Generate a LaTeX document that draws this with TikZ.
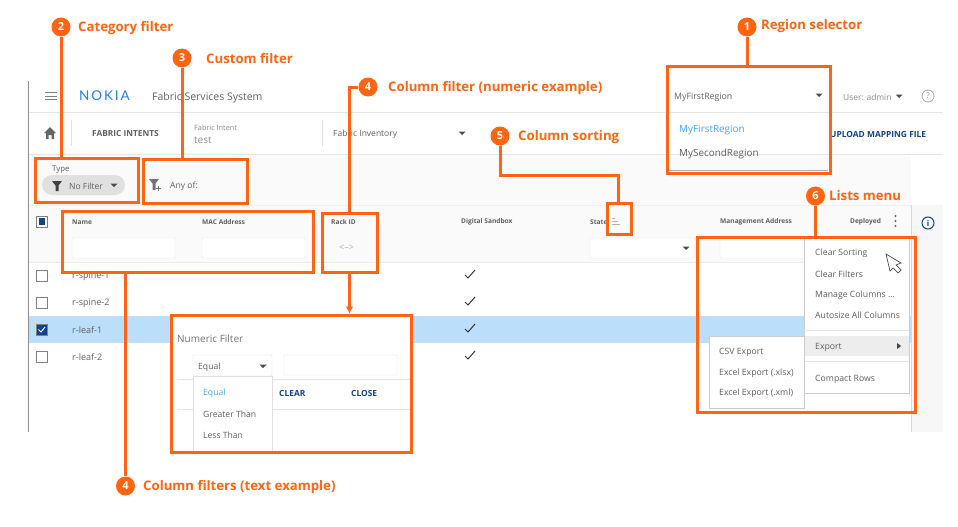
\documentclass[tikz,border=0pt]{standalone}
\usepackage{fontspec}
\setmainfont{Open Sans}
\newfontfamily\logofont[LetterSpace=14]{Lato}
\usetikzlibrary{positioning,arrows.meta}
\definecolor{callout}{HTML}{FF6410}
\definecolor{uigray}{HTML}{5F5F5F}
\definecolor{uinavy}{HTML}{124191}
\definecolor{uiblue}{HTML}{42A5F5}
\definecolor{rowblue}{HTML}{BBDEFB}
\definecolor{logoblue}{HTML}{1F7FE8}
\tikzset{
  callbox/.style={draw=callout,line width=3pt,minimum width=#1,inner sep=0pt},
  callnum/.style={circle,fill=callout,text=white,font=\bfseries\fontsize{11}{11}\selectfont,minimum size=19pt,inner sep=0pt},
  calltext/.style={anchor=west,yshift=-1pt,text=callout,inner sep=0pt,font=\bfseries\fontsize{13.2}{15}\selectfont},
  callline/.style={draw=callout,line width=3pt},
  uitext/.style={anchor=west,yshift=-1pt,inner sep=0pt,text=uigray,font=\fontsize{#1}{#1}\selectfont},
  uitext/.default=9,
  colhead/.style={anchor=west,yshift=-1pt,inner sep=0pt,text=uigray,font=\bfseries\fontsize{6.6}{7}\selectfont},
  uibold/.style={anchor=west,yshift=-1pt,inner sep=0pt,text=uinavy,font=\bfseries\fontsize{8.4}{9}\selectfont},
  inputbox/.style={draw=black!10,fill=white,rounded corners=1pt},
  menubox/.style={draw=black!12,fill=white},
  chk/.style={draw=black!50,line width=1pt,fill=white}
}
\newcommand{\ddtri}[1]{\fill[black!70] (#1) ++(-3.5,-1.5) -- ++(7,0) -- ++(-3.5,3.5) -- cycle;}
\begin{document}
\begin{tikzpicture}[x=1pt,y=-1pt,>=latex]
  \useasboundingbox (0,0) rectangle (958,527);
  \fill[white] (0,0) rectangle (958,527);
  % screenshot background
  \fill[black!2] (29,155) rectangle (911,262);
  \fill[black!3] (912,205) rectangle (943,432);
  \fill[rowblue] (29,316) rectangle (911,343);
  \draw[black!45,line width=1pt] (28,81) -- (28,432);
  \draw[black!10] (29,112) -- (943,112);
  \draw[black!10] (29,154) -- (943,154);
  \draw[black!6] (29,205) -- (911,205);
  \draw[black!8] (29,262) -- (911,262);
  \draw[black!15,line width=1pt] (911,205) -- (911,432);
  % header
  \draw[black!50,line width=1pt] (45,92.5) -- (57,92.5) (45,96) -- (57,96) (45,99.5) -- (57,99.5);
  \path (79,96) node[anchor=west,inner sep=0pt,text=logoblue,font=\logofont\fontsize{13.5}{14}\selectfont](logo){NOKIA};
  \path (152,97) node[uitext=10.5](fss){Fabric Services System};
  \fill[black!60] (44,133) -- (50,127) -- (56,133) -- (54,133) -- (54,139) -- (51.5,139) -- (51.5,135) -- (48.5,135) -- (48.5,139) -- (46,139) -- (46,133) -- cycle;
  \draw[black!12] (71,120) -- (71,146) (322,120) -- (322,146);
  \path (92,133) node[anchor=west,yshift=-1pt,inner sep=0pt,text=uigray,font=\bfseries\fontsize{8.3}{9}\selectfont](fabint){FABRIC INTENTS};
  \path (194,127) node[uitext=7.3,text=black!45](fi){Fabric Intent};
  \path (194,139) node[uitext=10,text=black!45](test){test};
  \path (333,133) node[uitext=8.5](finv){Fabric Inventory};
  \ddtri{462,133}
  \path (674,96) node[uitext=8.8](regsel){MyFirstRegion};
  \ddtri{819,95}
  \path (843,96) node[uitext=8.4,text=black!45](user){User: admin};
  \ddtri{899,96}
  \draw[black!35,line width=.8pt] (928,96) circle (6);
  \path (928,96) node[inner sep=0pt,text=black!40,font=\fontsize{8}{8}\selectfont](help){?};
  \path (679,129) node[uitext=9.9,text=uiblue](reg1){MyFirstRegion};
  \path (679,153) node[uitext=9.9](reg2){MySecondRegion};
  \draw[black!30,line width=1pt] (669,170) -- (828,170);
  \path (830,133) node[uibold](upl){UPLOAD MAPPING FILE};
  % filters
  \path (52,169) node[uitext=7.8](typ){Type};
  \fill[black!12,rounded corners=10pt] (42,175) rectangle (125,195);
  \fill[black!75] (52,181) -- (62,181) -- (58.5,185.5) -- (58.5,191) -- (55.5,191) -- (55.5,185.5) -- cycle;
  \path (69,185) node[uitext=8.5](nofilt){No Filter};
  \ddtri{114,185}
  \fill[black!55] (149,179) -- (159,179) -- (155.5,183.5) -- (155.5,190) -- (152.5,190) -- (152.5,183.5) -- cycle;
  \draw[black!55,line width=.8pt] (156,188) -- (161,188) (158.5,185.5) -- (158.5,190.5);
  \path (170,185) node[uitext=8.6](anyof){Any of:};
  % column heads
  \draw[chk] (36.5,216) rectangle (47,227);
  \fill[uinavy] (38.5,218) rectangle (45,225);
  \path (72,221) node[colhead](hname){Name};
  \path (202,221) node[colhead](hmac){MAC Address};
  \path (331,221) node[colhead](hrack){Rack ID};
  \path (461,221) node[colhead](hsand){Digital Sandbox};
  \path (590,221) node[colhead](hstate){State};
  \path (720,221) node[colhead](hmgmt){Management Address};
  \path (850,221) node[colhead](hdep){Deployed};
  \draw[black!30,line width=.6pt] (612,218) -- (615,218) (612,221) -- (618,221) (612,224) -- (620,224);
  \fill[black!60] (895.5,216) circle (1.2) (895.5,221) circle (1.2) (895.5,226) circle (1.2);
  \draw[uinavy,line width=1pt] (928,223) circle (6);
  \path (928,223) node[inner sep=0pt,text=uinavy,font=\bfseries\fontsize{8}{8}\selectfont](inf){i};
  \draw[inputbox] (72,238) rectangle (175,258);
  \draw[inputbox] (202,238) rectangle (305,258);
  \draw[inputbox] (590,238) rectangle (694,258);
  \draw[inputbox] (720,238) rectangle (810,258);
  \ddtri{686,248}
  \path (346.5,248) node[inner sep=0pt,text=black!30,font=\fontsize{9}{9}\selectfont](hrng){<-->};
  % rows
  \draw[chk] (36.5,270) rectangle (47,281);
  \draw[chk] (36.5,297) rectangle (47,308);
  \draw[chk,fill=uinavy] (36.5,324) rectangle (47,335);
  \draw[white,line width=1pt] (38.5,329.5) -- (41,332) -- (45,327);
  \draw[chk] (36.5,351) rectangle (47,362);
  \path (72,275) node[uitext](r1){r-spine-1};
  \path (72,302) node[uitext](r2){r-spine-2};
  \path (72,329) node[uitext](r3){r-leaf-1};
  \path (72,356) node[uitext](r4){r-leaf-2};
  \draw[black!80,line width=1pt] (465,275) -- (468,278) -- (475,270);
  \draw[black!80,line width=1pt] (465,302) -- (468,305) -- (475,297);
  \draw[black!80,line width=1pt] (465,329) -- (468,332) -- (475,324);
  \draw[black!80,line width=1pt] (465,356) -- (468,359) -- (475,351);
  % numeric filter popup
  \fill[white] (172,316) rectangle (410,451);
  \path (177,338) node[uitext=10,text=black!55](numf){Numeric Filter};
  \draw[black!10] (177,379) -- (410,379) (177,409) -- (410,409);
  \draw[inputbox] (193,355) rectangle (272,376);
  \draw[inputbox] (284,355) rectangle (397,375);
  \path (198,366) node[uitext=8.6](eqsel){Equal};
  \ddtri{263,366}
  \draw[menubox] (193,376) rectangle (272,451);
  \path (203,392) node[uitext=8.6,text=uiblue](eq){Equal};
  \path (203,413) node[uitext=8.6](gt){Greater Than};
  \path (203,434) node[uitext=8.6](lt){Less Than};
  \path (279,392) node[uibold](clr){CLEAR};
  \path (351,392) node[uibold](cls){CLOSE};
  % lists menu
  \draw[menubox,draw=black!20] (804,238) rectangle (909,393);
  \draw[black!10] (804,330) -- (909,330) (804,361) -- (909,361);
  \fill[black!7] (804.5,336) rectangle (908.5,356);
  \path (815,252) node[uitext=8.7](m1){Clear Sorting};
  \path (815,273) node[uitext=8.7](m2){Clear Filters};
  \path (815,294) node[uitext=8.7](m3){Manage Columns ...};
  \path (815,314) node[uitext=8.7](m4){Autosize All Columns};
  \path (815,346) node[uitext=8.7](m5){Export};
  \path (815,378) node[uitext=8.7](m6){Compact Rows};
  \fill[black!75] (897,343) -- (901,346) -- (897,349) -- cycle;
  \draw[menubox,draw=black!20] (709,336) rectangle (804,408);
  \path (719,351) node[uitext=8.7](x1){CSV Export};
  \path (719,372) node[uitext=8.7](x2){Excel Export (.xlsx)};
  \path (719,392) node[uitext=8.7](x3){Excel Export (.xml)};
  \draw[black!70,fill=white,line width=.7pt] (886,254) -- (901,263) -- (896,265) -- (901,270) -- (898,273) -- (893,268) -- (890,271) -- cycle;
  % callout boxes
  \path (86.5,180) node[callbox=103pt,minimum height=44pt](catbox){};
  \path (195.5,181) node[callbox=104pt,minimum height=44pt](custbox){};
  \path (187.5,241.5) node[callbox=251pt,minimum height=61pt](textbox){};
  \path (349.5,242.5) node[callbox=55pt,minimum height=59pt](rackbox){};
  \path (619,218.5) node[callbox=24pt,minimum height=31pt](sortbox){};
  \path (748.5,120) node[callbox=163pt,minimum height=106pt](regbox){};
  \path (806,324.5) node[callbox=218pt,minimum height=175pt](listbox){};
  \path (291,383.5) node[callbox=240pt,minimum height=137pt](numbox){};
  % callout numbers and titles
  \path (747,27) node[callnum](num1){1};
  \path (61,27) node[callnum](num2){2};
  \path (182,58) node[callnum](num3){3};
  \path (368,87) node[callnum](num4){4};
  \path (500,136) node[callnum](num5){5};
  \path (815.5,196) node[callnum](num6){6};
  \path (125.5,486) node[callnum](num7){4};
  \path (761,25) node[calltext](ttl1){Region selector};
  \path (78,27) node[calltext](ttl2){Category filter};
  \path (206,58) node[calltext](ttl3){Custom filter};
  \path (388,87) node[calltext](ttl4){Column filter (numeric example)};
  \path (518,136) node[calltext](ttl5){Column sorting};
  \path (829,195) node[calltext](ttl6){Lists menu};
  \path (143,486) node[calltext](ttl7){Column filters (text example)};
  % connectors
  \coordinate (sortbend) at (618.5,175);
  \draw[callline] (num1) -- (num1 |- regbox.north);
  \draw[callline] (num2) -- (num2 |- catbox.north);
  \draw[callline] (num3) -- (num3 |- custbox.north);
  \draw[callline] (num4) -| (rackbox);
  \draw[callline] (num5) |- (sortbend) -- (sortbend |- sortbox.north);
  \draw[callline] (num6) -- (num6 |- listbox.north);
  \draw[callline] (num7) -- (num7 |- textbox.south);
  \draw[callline,-{Latex[length=7pt,width=8pt]}] (rackbox) -- (rackbox |- numbox.north);
\end{tikzpicture}
\end{document}
